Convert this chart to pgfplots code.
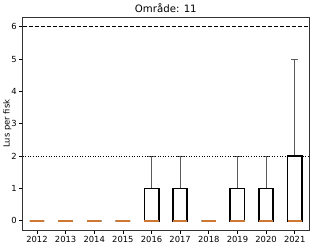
\documentclass[border=0pt]{standalone}
\usepackage{fontspec}
\setmainfont{DejaVu Sans}
\usepackage{pgfplots}
\pgfplotsset{compat=1.18}
\usepgfplotslibrary{statistics}
\definecolor{med}{RGB}{205,120,50}
\definecolor{wh}{RGB}{90,90,90}
\begin{document}
\begin{tikzpicture}
\begin{axis}[
  scale only axis,
  width=287pt, height=214pt,
  xmin=0.5, xmax=10.5,
  ymin=-0.3, ymax=6.3,
  xtick={1,...,10},
  xticklabels={2012,2013,2014,2015,2016,2017,2018,2019,2020,2021},
  ytick={0,1,2,3,4,5,6},
  tick align=outside,
  tick pos=left,
  major tick length=3.5pt,
  tick style={black, line width=0.7pt},
  axis line style={black!80, line width=0.8pt},
  /pgf/number format/assume math mode=true,
  ticklabel style={font=\fontsize{8.4}{10}\selectfont, text=black},
  xticklabel style={yshift=1pt},
  yticklabel style={xshift=1pt},
  title={Område: 11},
  title style={font=\fontsize{10.2}{12}\selectfont, yshift=-5pt},
  ylabel={Lus per fisk},
  ylabel style={font=\fontsize{8.4}{10}\selectfont, yshift=-7pt},
  boxplot/draw direction=y,
  boxplot/box extend=0.5,
  boxplot/whisker extend=0.25,
  boxplot/every box/.style={black, line width=1.7pt},
  boxplot/every median/.style={med, line width=1.7pt},
  boxplot/every whisker/.style={wh, line width=1pt},
  boxplot/draw/.code={%
    \draw[/pgfplots/boxplot/every whisker/.try]
      (boxplot box cs:\pgfplotsboxplotvalue{lower quartile},0.5) --
      (boxplot box cs:\pgfplotsboxplotvalue{lower whisker},0.5)
      (boxplot box cs:\pgfplotsboxplotvalue{upper quartile},0.5) --
      (boxplot box cs:\pgfplotsboxplotvalue{upper whisker},0.5)
      (boxplot whisker cs:\pgfplotsboxplotvalue{lower whisker},0) --
      (boxplot whisker cs:\pgfplotsboxplotvalue{lower whisker},1)
      (boxplot whisker cs:\pgfplotsboxplotvalue{upper whisker},0) --
      (boxplot whisker cs:\pgfplotsboxplotvalue{upper whisker},1);
    \draw[/pgfplots/boxplot/every box/.try]
      (boxplot box cs:\pgfplotsboxplotvalue{lower quartile},0) rectangle
      (boxplot box cs:\pgfplotsboxplotvalue{upper quartile},1);
    \draw[/pgfplots/boxplot/every median/.try]
      (boxplot box cs:\pgfplotsboxplotvalue{median},0) --
      (boxplot box cs:\pgfplotsboxplotvalue{median},1);
  },
]
\addplot[no marks, boxplot prepared={draw position=1, lower whisker=0, lower quartile=0, median=0, upper quartile=0, upper whisker=0}] coordinates {};
\addplot[no marks, boxplot prepared={draw position=2, lower whisker=0, lower quartile=0, median=0, upper quartile=0, upper whisker=0}] coordinates {};
\addplot[no marks, boxplot prepared={draw position=3, lower whisker=0, lower quartile=0, median=0, upper quartile=0, upper whisker=0}] coordinates {};
\addplot[no marks, boxplot prepared={draw position=4, lower whisker=0, lower quartile=0, median=0, upper quartile=0, upper whisker=0}] coordinates {};
\addplot[no marks, boxplot prepared={draw position=5, lower whisker=0, lower quartile=0, median=0, upper quartile=1, upper whisker=2}] coordinates {};
\addplot[no marks, boxplot prepared={draw position=6, lower whisker=0, lower quartile=0, median=0, upper quartile=1, upper whisker=2}] coordinates {};
\addplot[no marks, boxplot prepared={draw position=7, lower whisker=0, lower quartile=0, median=0, upper quartile=0, upper whisker=0}] coordinates {};
\addplot[no marks, boxplot prepared={draw position=8, lower whisker=0, lower quartile=0, median=0, upper quartile=1, upper whisker=2}] coordinates {};
\addplot[no marks, boxplot prepared={draw position=9, lower whisker=0, lower quartile=0, median=0, upper quartile=1, upper whisker=2}] coordinates {};
\addplot[no marks, boxplot prepared={draw position=10, lower whisker=0, lower quartile=0, median=0, upper quartile=2, upper whisker=5}] coordinates {};
% reference lines
\addplot[black, line width=1pt, dash pattern=on 4pt off 2pt] coordinates {(0.5,6) (10.5,6)};
\addplot[black, line width=1pt, dash pattern=on 1pt off 1.6pt] coordinates {(0.5,2) (10.5,2)};
\end{axis}
\path ([shift={(-22pt,-17pt)}]current axis.south west) rectangle ([shift={(15pt,17pt)}]current axis.north east);
\end{tikzpicture}
\end{document}
